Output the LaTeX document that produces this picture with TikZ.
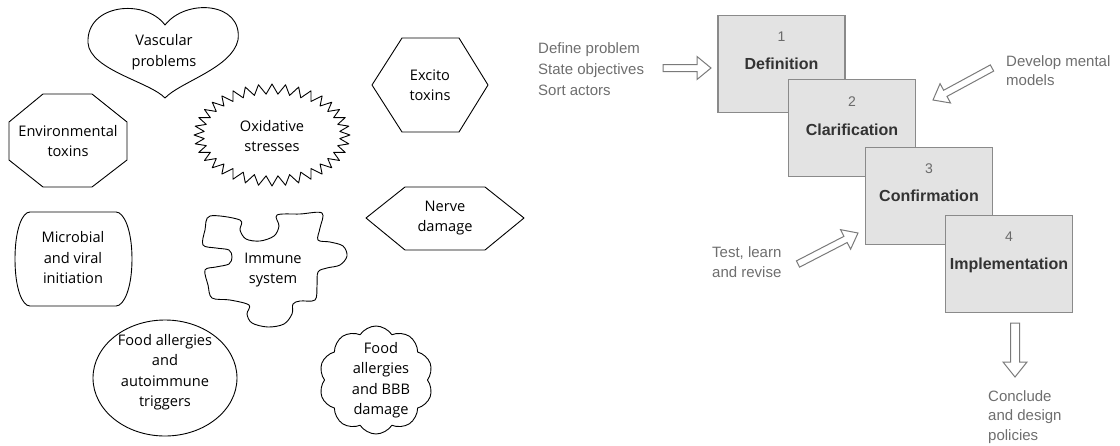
\documentclass[tikz,border=0pt]{standalone}
\usepackage{fontspec}
\setmainfont{Liberation Sans}
\newfontfamily\shapefont{Open Sans}
\usetikzlibrary{calc,shapes.geometric,shapes.symbols}

\definecolor{boxfill}{HTML}{E3E3E3}
\definecolor{boxedge}{HTML}{8A8A8A}
\definecolor{numgray}{HTML}{6A6A6A}
\definecolor{labeldark}{HTML}{333333}
\definecolor{notegray}{HTML}{6E6E6E}
\definecolor{arrowgray}{HTML}{7A7A7A}

\tikzset{
  shapeline/.style={draw=black, line width=0.9pt, fill=white, line join=round},
  shapetext/.style={font=\shapefont\fontsize{14.6}{20.5}\selectfont, align=center, inner sep=0pt, text=black},
  stagebox/.style={draw=boxedge, fill=boxfill, line width=1.3pt, minimum width=127pt, minimum height=97pt, inner sep=0pt},
  stagenum/.style={font=\fontsize{14}{16}\selectfont, text=numgray, anchor=base},
  stagename/.style={font=\bfseries\fontsize{16}{18}\selectfont, text=labeldark, anchor=base},
  note/.style={font=\fontsize{15}{21}\selectfont, text=notegray, align=left, inner sep=0pt, anchor=west},
  hollow/.style={draw=arrowgray, fill=white, line width=1pt, line join=miter},
}

% hollow block arrow: tail, tip, shaft half width, head half width, head length
\newcommand\hollowarrow[5]{%
  \coordinate (neck) at ($(#2)!#5!(#1)$);
  \draw[hollow] ($(#1)!#3!90:(#2)$) -- ($(neck)!#3!90:(#2)$) -- ($(neck)!#4!90:(#2)$) -- (#2)
    -- ($(neck)!#4!-90:(#2)$) -- ($(neck)!#3!-90:(#2)$) -- ($(#1)!#3!-90:(#2)$) -- cycle;}

\begin{document}
\begin{tikzpicture}[x=1pt, y=-1pt]
\useasboundingbox (0,0) rectangle (1120,445);

% ---------- causes ----------
% heart
\draw[shapeline] (165,25) .. controls (186,-2) and (243,2) .. (238,40)
  .. controls (232,68) and (180,82) .. (165,98)
  .. controls (150,82) and (90,70) .. (88,43)
  .. controls (86,4) and (145,-2) .. (165,25) -- cycle;
\node[shapetext] (vascular) at (164,52) {Vascular\\problems};

% octagon
\draw[shapeline] (43,94) -- (92,94) -- (127,122) -- (127,160) -- (92,187) -- (43,187) -- (9,160) -- (9,122) -- cycle;
\node[shapetext] (environ) at (68,141) {Environmental\\toxins};

% starburst
\draw[shapeline] (350,135) \foreach \i in {1,...,71} {
  -- ({272+(73+5*cos(\i*180))*cos(\i*5)}, {135+(46+5*cos(\i*180))*sin(\i*5)}) } -- cycle;
\node[shapetext] (oxid) at (272,136) {Oxidative\\stresses};

% hexagon, upper
\draw[shapeline] (372,85) -- (402,38) -- (459,38) -- (488,85) -- (459,132) -- (402,132) -- cycle;
\node[shapetext] (excito) at (430,85) {Excito\\toxins};

% hexagon, lower
\draw[shapeline] (366,218) -- (405,187) -- (485,187) -- (524,218) -- (485,250) -- (405,250) -- cycle;
\node[shapetext] (nerve) at (445,218) {Nerve\\damage};

% barrel
\draw[shapeline] (30,212) -- (116,212) .. controls (124,212) and (132,230) .. (132,259)
  .. controls (132,288) and (124,306) .. (116,306) -- (30,306)
  .. controls (22,306) and (15,288) .. (15,259) .. controls (15,230) and (22,212) .. (30,212) -- cycle;
\node[shapetext] (microbial) at (73,258) {Microbial\\and viral\\initiation};

% puzzle piece
\draw[shapeline] plot[smooth cycle, tension=0.55] coordinates {
  (210,216) (240,220) (240,230) (246,239) (260,241) (274,236) (279,226) (277,215)
  (300,214) (322,213) (320,228) (318,240) (330,242) (343,246) (347,256) (340,265) (327,268)
  (318,272) (317,286) (315,300) (300,301) (293,304) (292,314) (284,324) (268,327) (252,323)
  (247,314) (249,305) (230,300) (212,298) (208,285) (205,270) (216,267) (229,264) (232,257)
  (229,250) (216,248) (203,245) (205,230)};
\node[shapetext] (immune) at (273,270) {Immune\\system};

% ellipse
\draw[shapeline] (165,378) ellipse [x radius=72, y radius=58];
\node[shapetext] (foodauto) at (165,372) {Food allergies\\and\\autoimmune\\triggers};

% cloud
\node[cloud, cloud puffs=10, cloud puff arc=115, aspect=1.05, shapeline,
      minimum width=114pt, minimum height=108pt] (cloud) at (376,380) {};
\node[shapetext] (foodbbb) at (381,380) {Food\\allergies\\and BBB\\damage};

% ---------- stages ----------
\node[stagebox] (box1) at (781.5,64) {};
\node[stagebox] (box2) at (852,128) {};
\node[stagebox] (box3) at (929,196) {};
\node[stagebox] (box4) at (1009,264) {};

\node[stagenum]  (n1) at (781.5,41) {1};
\node[stagename] (l1) at (781.5,69) {Definition};
\node[stagenum]  (n2) at (852,106) {2};
\node[stagename] (l2) at (852,135) {Clarification};
\node[stagenum]  (n3) at (929,173) {3};
\node[stagename] (l3) at (929,201) {Confirmation};
\node[stagenum]  (n4) at (1009,241) {4};
\node[stagename] (l4) at (1009,269) {Implementation};

% notes
\node[note] (define) at (538,69) {Define problem\\State objectives\\Sort actors};
\node[note, font=\fontsize{15}{19}\selectfont] (develop) at (1006,71) {Develop mental\\models};
\node[note, font=\fontsize{15}{20}\selectfont] (test) at (712,262) {Test, learn\\and revise};
\node[note, font=\fontsize{15}{19.5}\selectfont] (conclude) at (988,417) {Conclude\\and design\\policies};

% block arrows
\coordinate (a1t) at (663,68);  \coordinate (a1h) at (711,68);
\coordinate (a2t) at (992,68);  \coordinate (a2h) at (933,100);
\coordinate (a3t) at (798,264); \coordinate (a3h) at (858,233);
\coordinate (a4t) at (1015,323); \coordinate (a4h) at (1015,377);
\hollowarrow{a1t}{a1h}{3.5pt}{11.5pt}{14pt}
\hollowarrow{a2t}{a2h}{3.5pt}{11pt}{14pt}
\hollowarrow{a3t}{a3h}{3.5pt}{11pt}{14pt}
\hollowarrow{a4t}{a4h}{4.5pt}{12pt}{15pt}
\end{tikzpicture}
\end{document}
